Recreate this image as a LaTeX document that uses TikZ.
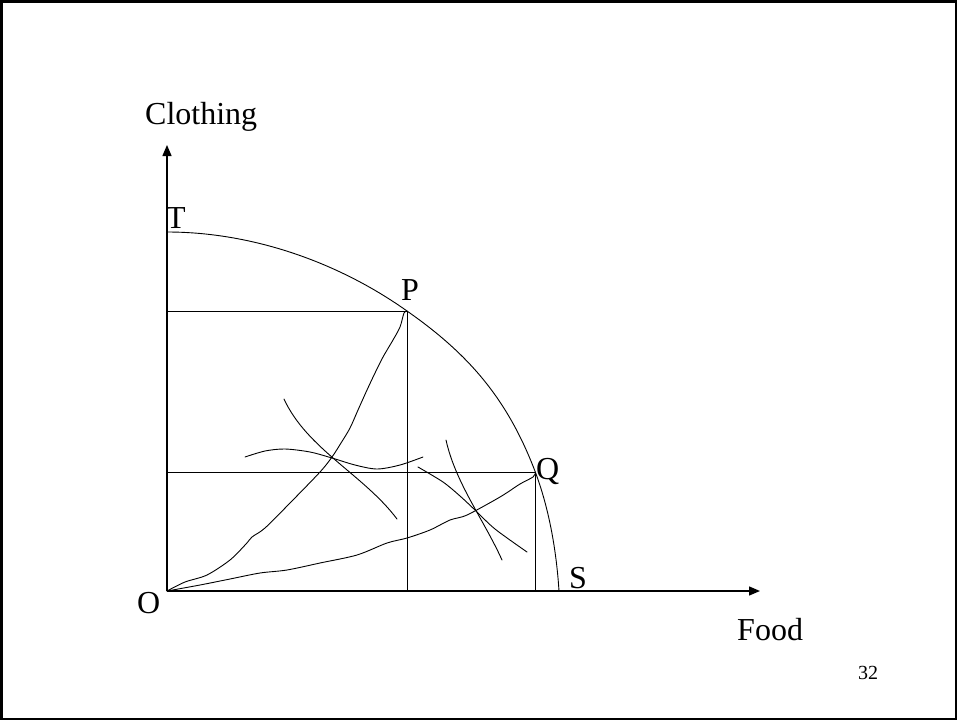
\documentclass[tikz,border=0pt]{standalone}
\usepackage{fontspec}
\setmainfont{Liberation Serif}
\usetikzlibrary{arrows.meta}
\newcommand\mylblfont{\fontsize{32}{32}\selectfont}
\newcommand\mypgfont{\fontsize{20}{20}\selectfont}
\begin{document}
\begin{tikzpicture}[x=1pt,y=-1pt,
  thin/.style={line width=0.9pt, line join=round, line cap=round},
  axis/.style={line width=1.4pt, -{Triangle[length=11pt,width=9pt]}},
  frame/.style={line width=2.5pt},
  lbl/.style={font=\mylblfont, inner sep=0pt, anchor=base west},
  curvy/.style={thin, smooth, tension=0.5}]
\useasboundingbox (0,0) rectangle (957,720);
\draw[frame] (1.25,1.25) rectangle (955.75,718.75);
% key points
\coordinate (O) at (167,591);
\coordinate (Ytip) at (167,145);
\coordinate (Xtip) at (760,591);
\coordinate (T) at (167,232);
\coordinate (P) at (407,311);
\coordinate (Q) at (535.5,472.5);
\coordinate (S) at (559,591);
\coordinate (PY) at (167,311);
\coordinate (QY) at (167,472.5);
\coordinate (PX) at (407,591);
\coordinate (QX) at (535.5,591);
% axes
\draw[axis] (O) -- (Ytip);
\draw[axis] (O) -- (Xtip);
% box lines
\draw[thin] (PY) -- (P) -- (PX);
\draw[thin] (QY) -- (Q) -- (QX);
% production frontier
\draw[thin] (T) .. controls (252,232) and (338,262) .. (P)
  .. controls (470,355) and (508,400) .. (Q)
  .. controls (549.4,510) and (556.4,551) .. (S);
% contract curve O-P
\draw[curvy] plot coordinates {(O) (185,582) (207,575) (230,560) (246,544) (252,537) (265,528) (290,503) (320,472) (332,457) (341,443) (350,428) (358,410) (367,390) (375,373) (383,357) (393,340) (400,327) (404,313) (P)};
% contract curve O-Q
\draw[curvy] plot coordinates {(O) (200,585) (230,579) (260,573) (287,570) (320,563) (357,555) (387,543) (407,538) (430,530) (450,520) (467,515) (500,497) (520,484) (533,477) (Q)};
% indifference curves
\draw[thin] (284,399) .. controls (307,449) and (364,475) .. (397,519);
\draw[curvy] plot coordinates {(245,457) (265,451) (285,449) (310,452) (332,458) (355,465) (377,469) (400,465) (423,457)};
\draw[thin] (446,440) .. controls (455.5,483) and (484,520) .. (502,560);
\draw[curvy] plot coordinates {(418,467) (443,482) (460,496) (475,510) (495,529) (527,552)};
% labels
\node[lbl] (clothing) at (145,124) {Clothing};
\node[lbl] (food) at (737,640) {Food};
\node[lbl] (lT) at (166,228) {T};
\node[lbl] (lP) at (401,300) {P};
\node[lbl] (lQ) at (536,479) {Q};
\node[lbl] (lS) at (569,588) {S};
\node[lbl] (lO) at (137,613) {O};
\node[font=\mypgfont, inner sep=0pt, anchor=base west] (pg) at (858,679) {32};
\end{tikzpicture}
\end{document}
